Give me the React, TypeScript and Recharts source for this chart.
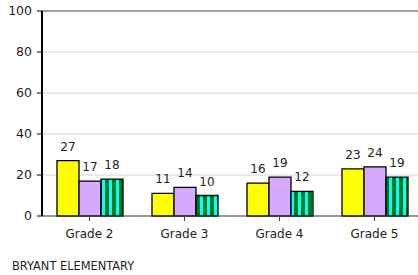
import React from 'react';
import { BarChart, Bar, XAxis, YAxis, CartesianGrid, LabelList, ReferenceLine } from 'recharts';

const categories = ['Grade 2', 'Grade 3', 'Grade 4', 'Grade 5'];
const seriesA = [27, 11, 16, 23];
const seriesB = [17, 14, 19, 24];
const seriesC = [18, 10, 12, 19];
const yTicks = [0, 20, 40, 60, 80, 100];
const footer = 'BRYANT ELEMENTARY';

const data = categories.map((c, i) => ({ name: c, a: seriesA[i], b: seriesB[i], c: seriesC[i] }));

const font = 'DejaVu Sans, Verdana, sans-serif';

export default function App() {
  return (
    <div style={{ position: 'absolute', left: 0, top: 0, width: 418, height: 275, overflow: 'hidden', background: '#fff' }}>
      <BarChart
        width={422}
        height={250}
        data={data}
        margin={{ top: 11, right: 0, bottom: 0, left: 0 }}
        barGap={0}
        barCategoryGap={15}
      >
        <defs>
          <pattern id="stripes" patternUnits="userSpaceOnUse" width="7" height="10">
            <rect x="0" y="0" width="7" height="10" fill="#00ffff" />
            <rect x="0" y="0" width="4" height="10" fill="#007a1f" />
          </pattern>
        </defs>
        <CartesianGrid vertical={false} stroke="#d4d4d4" />
        <ReferenceLine y={100} stroke="#a0a0a0" strokeWidth={2} />
        <XAxis
          dataKey="name"
          height={34}
          stroke="#444"
          tickSize={5}
          tickMargin={8}
          tick={{ fill: '#1e1e1e', fontSize: 12, fontFamily: font }}
          tickLine={{ stroke: '#444' }}
        />
        <YAxis
          width={42}
          domain={[0, 100]}
          ticks={yTicks}
          interval={0}
          stroke="#000"
          strokeWidth={2}
          tickSize={5}
          tickMargin={5}
          tick={{ fill: '#1e1e1e', fontSize: 12.5, fontFamily: font }}
          tickLine={{ stroke: '#000', strokeWidth: 1 }}
        />
        <Bar dataKey="a" fill="#ffff00" stroke="#000" strokeWidth={1.3} isAnimationActive={false}>
          <LabelList dataKey="a" position="top" offset={10} fill="#1e1e1e" fontSize={12} fontFamily={font} />
        </Bar>
        <Bar dataKey="b" fill="#d7aaff" stroke="#000" strokeWidth={1.3} isAnimationActive={false}>
          <LabelList dataKey="b" position="top" offset={10} fill="#1e1e1e" fontSize={12} fontFamily={font} />
        </Bar>
        <Bar dataKey="c" fill="url(#stripes)" stroke="#000" strokeWidth={1.3} isAnimationActive={false}>
          <LabelList dataKey="c" position="top" offset={10} fill="#1e1e1e" fontSize={12} fontFamily={font} />
        </Bar>
      </BarChart>
      <div style={{ position: 'absolute', left: 12, top: 259, fontFamily: font, fontSize: 11.4, lineHeight: '14px', color: '#1e1e1e', whiteSpace: 'nowrap' }}>{footer}</div>
    </div>
  );
}
